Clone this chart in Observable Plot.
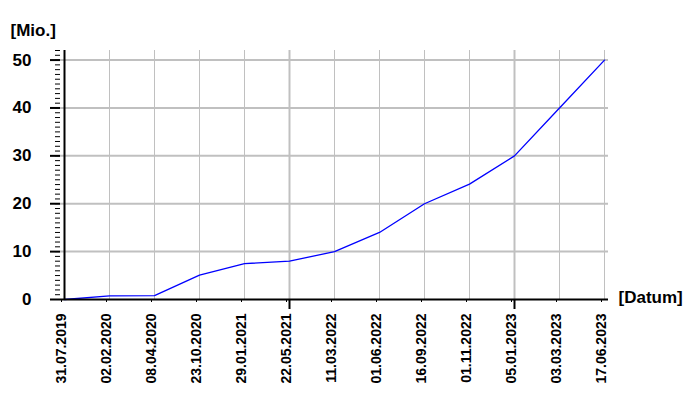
<!DOCTYPE html>
<html><head><meta charset="utf-8">
<script src="https://cdn.jsdelivr.net/npm/d3@7"></script>
<script src="https://cdn.jsdelivr.net/npm/@observablehq/plot@0.6"></script>
<style>body{margin:0;background:#fff}</style>
</head><body><div id="chart"></div>
<script>
const dates = ["31.07.2019","02.02.2020","08.04.2020","23.10.2020","29.01.2021","22.05.2021","11.03.2022","01.06.2022","16.09.2022","01.11.2022","05.01.2023","03.03.2023","17.06.2023"];
const values = [0, 0.75, 0.8, 5.1, 7.5, 8, 10, 14, 20, 24.1, 30, 40, 50];
const yMajorTicks = [0, 10, 20, 30, 40, 50];
const yMinorTicks = d3.range(0, 53, 1);
const thickDates = ["22.05.2021", "05.01.2023"];
const yLabel = "[Mio.]";
const xLabel = "[Datum]";

const data = dates.map((d, i) => ({date: d, value: values[i]}));
const font = '"Liberation Sans", Arial, sans-serif';
const chart = Plot.plot({
  width: 700, height: 400,
  marginLeft: 60, marginRight: 92, marginTop: 50, marginBottom: 101,
  style: {fontFamily: font, background: "#fff", color: "#000", overflow: "visible"},
  x: {type: "point", domain: dates, padding: 0},
  y: {domain: [0, 52]},
  marks: [
    Plot.ruleY(yMajorTicks.filter(d => d > 0), {stroke: "#c0c0c0", strokeWidth: 2}),
    Plot.ruleX(dates.filter(d => !thickDates.includes(d)), {stroke: "#c0c0c0", strokeWidth: 1}),
    Plot.ruleX(thickDates, {stroke: "#c0c0c0", strokeWidth: 2}),
    Plot.line(data, {x: "date", y: "value", stroke: "#0000ff", strokeWidth: 1.3}),
    Plot.ruleY([0], {stroke: "#000", strokeWidth: 2}),
    Plot.ruleX([dates[0]], {stroke: "#000", strokeWidth: 2}),
    Plot.axisY({ticks: yMinorTicks, tickSize: 5, tickFormat: () => "", strokeWidth: 1, label: null}),
    Plot.axisY({ticks: yMajorTicks, tickSize: 10, tickPadding: 19, strokeWidth: 2, fontSize: 17, fontWeight: "bold", label: null}),
    Plot.axisX({tickSize: 3, tickRotate: -90, fontSize: 14, fontWeight: "bold", tickPadding: 11, dx: -3, label: null}),
    Plot.axisX({ticks: thickDates, tickSize: 10, strokeWidth: 2, tickFormat: () => "", label: null}),
    Plot.text([yLabel], {text: d => d, frameAnchor: "top-left", dx: -50, dy: -27, textAnchor: "start", fontSize: 17, fontWeight: "bold"}),
    Plot.text([xLabel], {text: d => d, frameAnchor: "bottom-right", dx: 10, dy: 3, textAnchor: "start", fontSize: 17, fontWeight: "bold"})
  ]
});
document.getElementById("chart").appendChild(chart);
</script>
</body></html>
